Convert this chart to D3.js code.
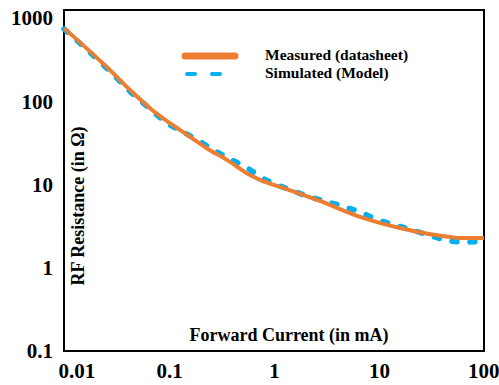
<!DOCTYPE html>
<html>
<head>
<meta charset="utf-8">
<script src="https://cdn.jsdelivr.net/npm/d3@7"></script>
<style>
  body { margin: 0; background: #fff; }
  svg { display: block; }
</style>
</head>
<body>
<figure id="chart" style="margin:0"></figure>
<script>
// values (current in mA, resistance in ohm)
const measuredCurrent = [0.01, 0.0265, 0.0425, 0.0659, 0.102, 0.158, 0.2285, 0.356, 0.59, 0.736, 1.22, 2.57, 7.05, 15.8, 47.5, 59, 100];
const measuredResistance = [757, 246.6, 137, 82.6, 54.6, 37.7, 27.3, 19.8, 13.0, 11.4, 9.1, 6.53, 3.97, 3.0, 2.34, 2.28, 2.28];

const simulatedCurrent = [0.01, 0.022, 0.0318, 0.0425, 0.0565, 0.0764, 0.102, 0.142, 0.197, 0.286, 0.398, 0.553, 0.769, 1.07, 1.52, 2.2, 3.27, 4.74, 6.89, 9.78, 14.2, 20.6, 29.3, 42.5, 63, 100];
const simulatedResistance = [741, 298, 189.6, 131, 95.7, 68.7, 52, 41.7, 32.8, 24.7, 19.8, 15.9, 12.0, 9.9, 8.37, 7.1, 6.18, 5.38, 4.56, 3.76, 3.27, 2.84, 2.48, 2.16, 2.04, 2.08];

const xTicks = [0.01, 0.1, 1, 10, 100];
const yTicks = [0.1, 1, 10, 100, 1000];
const seriesNames = ["Measured (datasheet)", "Simulated (Model)"];
const xTitle = "Forward Current (in mA)";
const yTitle = "RF Resistance (in \u03A9)";

const width = 499, height = 385;
const plot = { left: 64, right: 484, top: 10, bottom: 351 };
const orange = "#ED7D31", blue = "#00B0F0";
const font = "'Liberation Serif', 'Times New Roman', serif";

const svg = d3.select("#chart").append("svg")
  .attr("width", width)
  .attr("height", height);

const x = d3.scaleLog().domain([0.01, 100]).range([plot.left, plot.right]);
const y = d3.scaleLog().domain([0.1, 1250]).range([plot.bottom, plot.top]);

function styleText(sel, size) {
  sel.style("font-family", font)
    .style("font-weight", "bold")
    .style("font-size", size + "px")
    .attr("fill", "#000");
}

// axes (no tick marks, only labels)
const xAxis = svg.append("g")
  .attr("transform", "translate(0," + plot.bottom + ")")
  .call(d3.axisBottom(x).tickValues(xTicks).tickSize(0).tickPadding(12).tickFormat(d => String(d)));
xAxis.select(".domain").remove();
styleText(xAxis.selectAll("text"), 21);
xAxis.selectAll("text").filter(d => d === 0.01).attr("text-anchor", "start").attr("dx", -6);
xAxis.selectAll("text").filter(d => d === 100).attr("text-anchor", "end").attr("dx", 15);

const yAxis = svg.append("g")
  .attr("transform", "translate(" + plot.left + ",0)")
  .call(d3.axisLeft(y).tickValues(yTicks).tickSize(0).tickPadding(11).tickFormat(d => String(d)));
yAxis.select(".domain").remove();
styleText(yAxis.selectAll("text"), 21);

// frame
svg.append("rect")
  .attr("x", plot.left)
  .attr("y", plot.top)
  .attr("width", plot.right - plot.left)
  .attr("height", plot.bottom - plot.top)
  .attr("fill", "none")
  .attr("stroke", "#000")
  .attr("stroke-width", 2);

const line = d3.line()
  .curve(d3.curveMonotoneX)
  .x(d => x(d[0]))
  .y(d => y(d[1]));

svg.append("path")
  .datum(simulatedCurrent.map((c, i) => [c, simulatedResistance[i]]))
  .attr("d", line)
  .attr("fill", "none")
  .attr("stroke", blue)
  .attr("stroke-width", 5.5)
  .attr("stroke-dasharray", "5,13")
  .attr("stroke-linecap", "round");

svg.append("path")
  .datum(measuredCurrent.map((c, i) => [c, measuredResistance[i]]))
  .attr("d", line)
  .attr("fill", "none")
  .attr("stroke", orange)
  .attr("stroke-width", 4)
  .attr("stroke-linejoin", "round");

// axis titles
svg.append("text")
  .attr("x", 289)
  .attr("y", 337)
  .attr("text-anchor", "middle")
  .attr("dominant-baseline", "middle")
  .call(styleText, 18)
  .text(xTitle);

svg.append("text")
  .attr("transform", "translate(80,206) rotate(-90)")
  .attr("text-anchor", "middle")
  .attr("dominant-baseline", "middle")
  .call(styleText, 18)
  .text(yTitle);

// legend
const legend = svg.append("g");
legend.append("line")
  .attr("x1", 185).attr("x2", 235).attr("y1", 56).attr("y2", 56)
  .attr("stroke", orange).attr("stroke-width", 7).attr("stroke-linecap", "round");
legend.append("line")
  .attr("x1", 187).attr("x2", 236).attr("y1", 74).attr("y2", 74)
  .attr("stroke", blue).attr("stroke-width", 4)
  .attr("stroke-dasharray", "8,17").attr("stroke-linecap", "round");
legend.selectAll("text.lbl")
  .data(seriesNames)
  .enter()
  .append("text")
  .attr("class", "lbl")
  .attr("x", 265)
  .attr("y", (d, i) => 56 + i * 18)
  .attr("dominant-baseline", "middle")
  .call(styleText, 15.5)
  .text(d => d);
</script>
</body>
</html>
